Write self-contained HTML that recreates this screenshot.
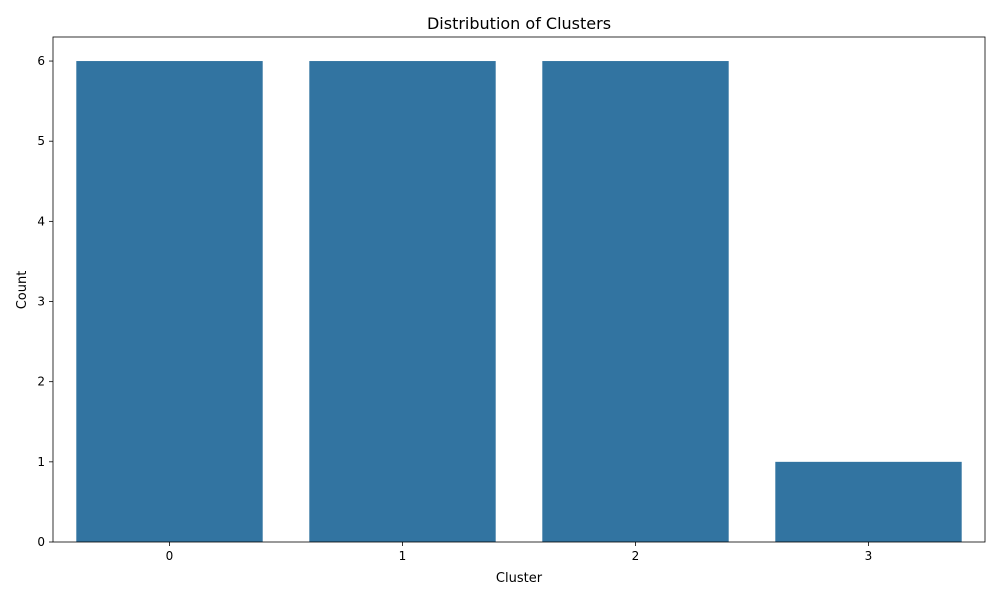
<!DOCTYPE html>
<html><head><meta charset="utf-8"><style>
body{margin:0;background:#fff;font-family:"Liberation Sans","DejaVu Sans",sans-serif;}
svg text{font-family:"DejaVu Sans","Liberation Sans",sans-serif;}
</style></head><body>
<svg id="chart" width="1000" height="600" xmlns="http://www.w3.org/2000/svg">
<rect width="1000" height="600" fill="#fff"/>
<text x="519" y="29" text-anchor="middle" font-size="16" fill="#000">Distribution of Clusters</text>
<g id="bars"></g>
<g id="axes"></g>
<text x="519" y="582" text-anchor="middle" font-size="13">Cluster</text>
<text transform="translate(26,290) rotate(-90)" text-anchor="middle" font-size="13">Count</text>
</svg>
<script>
const categories = ["0","1","2","3"];
const counts = [6,6,6,1];
const yTicks = [0,1,2,3,4,5,6];
const L=53,R=985,T=37,B=542;
const yMax=6.3;
const NS="http://www.w3.org/2000/svg";
const x=i=>L+(i+0.5)*(R-L)/categories.length;
const y=v=>B-(v/yMax)*(B-T);
const bw=0.8*(R-L)/categories.length;
const bars=document.getElementById('bars'), axes=document.getElementById('axes');
function mk(tag,attrs,parent){const e=document.createElementNS(NS,tag);for(const k in attrs)e.setAttribute(k,attrs[k]);parent.appendChild(e);return e;}
counts.forEach((c,i)=>{
  const r=mk('rect',{x:x(i)-bw/2,y:y(c),width:bw,height:y(0)-y(c),fill:'#3274a1'},bars);
  
  
  const t=mk('line',{x1:x(i),x2:x(i),y1:B,y2:B+4,stroke:'#000','stroke-width':0.8},axes);
  
  
  const lb=mk('text',{x:x(i),y:B+18,'text-anchor':'middle','font-size':12},axes);
  lb.textContent=categories[i];
  
  
});
yTicks.forEach(v=>{
  const t=mk('line',{x1:L-4,x2:L,y1:y(v),y2:y(v),stroke:'#000','stroke-width':0.8},axes);
  
  
  const lb=mk('text',{x:L-8,y:y(v)+4,'text-anchor':'end','font-size':12},axes);
  lb.textContent=v;
  
  
});
const fr=mk('rect',{x:L,y:T,width:R-L,height:B-T,fill:'none',stroke:'#000','stroke-width':0.8},axes);


</script>
</body></html>
